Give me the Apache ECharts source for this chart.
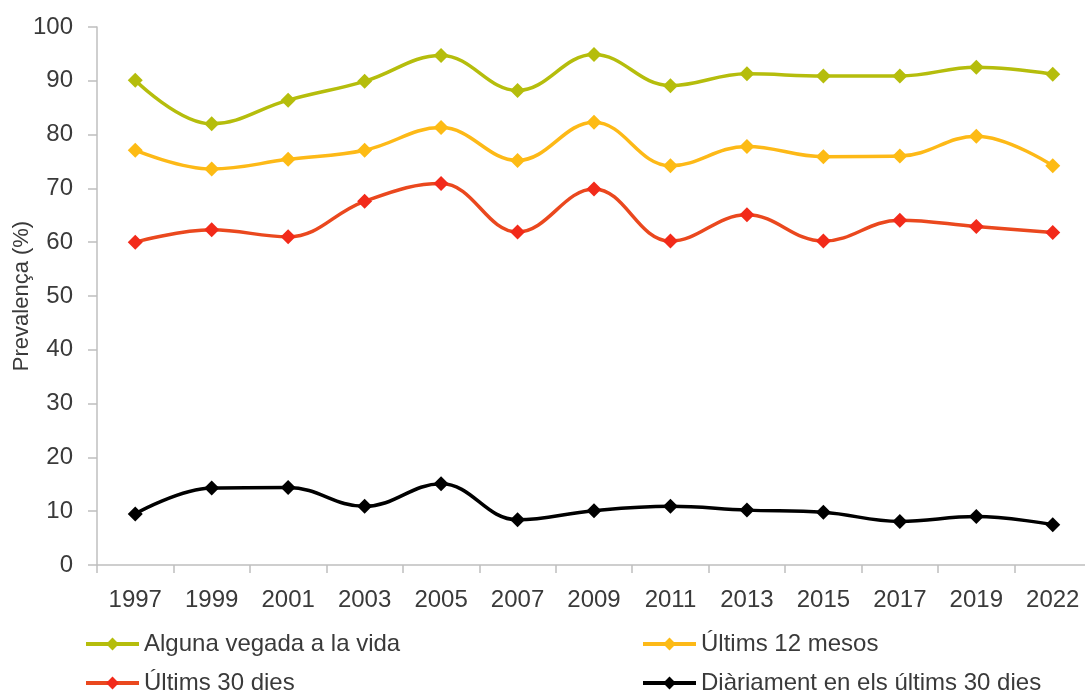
<!DOCTYPE html>
<html>
<head>
<meta charset="utf-8">
<script src="https://cdn.jsdelivr.net/npm/echarts@6/dist/echarts.min.js"></script>
<style>
html,body{margin:0;padding:0;background:#fff;}
#chart{width:1085px;height:695px;}
</style>
</head>
<body>
<div id="chart"></div>
<script>
const years = ['1997','1999','2001','2003','2005','2007','2009','2011','2013','2015','2017','2019','2022'];
const algunaVegada = [90.1, 82.0, 86.4, 89.9, 94.7, 88.2, 94.9, 89.1, 91.3, 90.9, 90.9, 92.5, 91.2];
const ultims12 = [77.1, 73.6, 75.4, 77.1, 81.3, 75.2, 82.3, 74.2, 77.8, 75.9, 76.0, 79.7, 74.2];
const ultims30 = [60.0, 62.3, 61.0, 67.6, 70.9, 61.9, 69.9, 60.2, 65.1, 60.2, 64.1, 62.9, 61.8];
const diariament = [9.5, 14.3, 14.4, 10.9, 15.1, 8.4, 10.1, 10.9, 10.2, 9.8, 8.1, 9.0, 7.5];
const seriesNames = ['Alguna vegada a la vida', 'Últims 12 mesos', 'Últims 30 dies', 'Diàriament en els últims 30 dies'];
const yTicks = [0, 100, 10];

const FONT = '"Liberation Sans", Arial, sans-serif';
const TXT = '#3a3a3a';
const AX = '#bfbfbf';

function mkSeries(name, data, lineColor, markColor) {
  return {
    name: name, type: 'line', data: data, smooth: 0.4,
    symbol: 'diamond', symbolSize: 15,
    lineStyle: { color: lineColor, width: 3.5 },
    itemStyle: { color: markColor },
    emphasis: { disabled: true },
    z: 2
  };
}

function mkLegend(name, left, top) {
  return {
    data: [name], left: left, top: top, padding: 0,
    itemWidth: 53, itemHeight: 16, itemGap: 0,
    lineStyle: { width: 4 },
    textStyle: { fontFamily: FONT, fontSize: 24, color: TXT, padding: [0,0,0,0] },
    selectedMode: false
  };
}

const chart = echarts.init(document.getElementById('chart'));
chart.setOption({
  animation: false,
  backgroundColor: '#fff',
  grid: { left: 97, top: 27, bottom: 130, right: -6, containLabel: false, outerBoundsMode: 'none' },
  legend: [
    mkLegend(seriesNames[0], 84, 632),
    mkLegend(seriesNames[1], 641, 632),
    mkLegend(seriesNames[2], 84, 671),
    mkLegend(seriesNames[3], 641, 671)
  ],
  xAxis: {
    type: 'category', data: years, boundaryGap: true,
    axisLine: { lineStyle: { color: AX, width: 1.5 } },
    axisTick: { show: true, length: 8, alignWithLabel: false, lineStyle: { color: AX, width: 1.5 } },
    axisLabel: { fontFamily: FONT, fontSize: 24, color: TXT, margin: 23, interval: 0 },
    splitLine: { show: false }
  },
  yAxis: {
    type: 'value', min: yTicks[0], max: yTicks[1], interval: yTicks[2],
    name: 'Prevalença (%)', nameLocation: 'middle', nameGap: 64, nameMoveOverlap: false,
    nameTextStyle: { fontFamily: FONT, fontSize: 22, color: TXT },
    axisLine: { show: true, lineStyle: { color: AX, width: 1.5 } },
    axisTick: { show: true, length: 9, lineStyle: { color: AX, width: 1.5 } },
    axisLabel: { fontFamily: FONT, fontSize: 24, color: TXT, margin: 24 },
    splitLine: { show: false }
  },
  series: [
    mkSeries(seriesNames[0], algunaVegada, '#B5BD0C', '#B5BD0C'),
    mkSeries(seriesNames[1], ultims12, '#FDB917', '#FDBB14'),
    mkSeries(seriesNames[2], ultims30, '#EA481E', '#F22A1A'),
    mkSeries(seriesNames[3], diariament, '#000000', '#000000')
  ]
});
</script>
</body>
</html>
